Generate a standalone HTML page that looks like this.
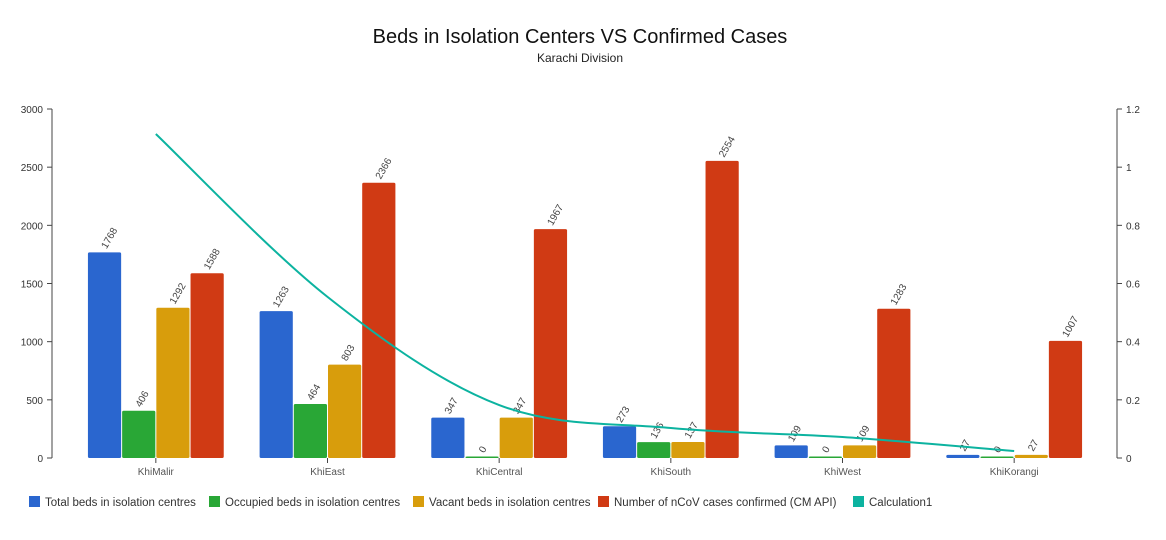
<!DOCTYPE html>
<html><head><meta charset="utf-8"><style>
body{margin:0;background:#fff;font-family:"Liberation Sans",sans-serif}
svg text{font-family:"Liberation Sans",sans-serif}
</style></head><body>
<svg id="c" width="1166" height="535">
<text x="580" y="43" text-anchor="middle" font-size="20" fill="#111">Beds in Isolation Centers VS Confirmed Cases</text>
<text x="580" y="62" text-anchor="middle" font-size="12" fill="#222">Karachi Division</text>
</svg>
<script>
const categories=["KhiMalir","KhiEast","KhiCentral","KhiSouth","KhiWest","KhiKorangi"];
const totalBeds=[1768,1263,347,273,109,27];
const occupiedBeds=[406,464,0,136,0,0];
const vacantBeds=[1292,803,347,137,109,27];
const confirmed=[1588,2366,1967,2554,1283,1007];
const calc1=[1.114,0.554,0.182,0.103,0.072,0.024];
const leftTicks=[0,500,1000,1500,2000,2500,3000];
const rightTicks=[0,0.2,0.4,0.6,0.8,1,1.2];
const seriesNames=["Total beds in isolation centres","Occupied beds in isolation centres","Vacant beds in isolation centres","Number of nCoV cases confirmed (CM API)","Calculation1"];
const colors=["#2a66cf","#29a736","#d89d0c","#d03a14","#0cb3a0"];

const svg=document.getElementById('c');const NS="http://www.w3.org/2000/svg";
function mk(t,a,p){const e=document.createElementNS(NS,t);for(const k in a)e.setAttribute(k,a[k]);(p||svg).appendChild(e);return e;}
const X0=70,X1=1100,Y0=458,Y1=109;
const gw=(X1-X0)/categories.length;
const yL=v=>Y0-(v/3000)*(Y0-Y1);
const yR=v=>Y0-(v/1.2)*(Y0-Y1);
const xC=i=>X0+gw*(i+0.5);
const la=mk('line',{x1:52,x2:52,y1:Y1,y2:Y0,stroke:'#444','stroke-width':1});

leftTicks.forEach(v=>{const y=yL(v);mk('line',{x1:47,x2:52,y1:y,y2:y,stroke:'#444'});
 const t=mk('text',{x:43,y:y+4,'text-anchor':'end','font-size':10,fill:'#333'});t.textContent=v;
 });
const ra=mk('line',{x1:1117,x2:1117,y1:Y1,y2:Y0,stroke:'#444'});

rightTicks.forEach(v=>{const y=yR(v);mk('line',{x1:1117,x2:1122,y1:y,y2:y,stroke:'#444'});
 const t=mk('text',{x:1126,y:y+4,'font-size':10,fill:'#333'});t.textContent=v;
 });
const series=[totalBeds,occupiedBeds,vacantBeds,confirmed];
const bw=34.2;
categories.forEach((c,i)=>{
 const cx=xC(i);
 series.forEach((s,j)=>{
  const x=cx-2*bw+j*bw, y=yL(s[i]), h=Math.max(Y0-y,1.5);
  const r=mk('rect',{x:x+0.5,y:Y0-h,width:bw-1,height:h,fill:colors[j],rx:1.5});
  
  const tx=x+bw/2+2, ty=Y0-h-3;
  const t=mk('text',{x:tx,y:ty,'font-size':10,fill:'#444',transform:`rotate(-60 ${tx} ${ty})`});t.textContent=s[i];
  
 });
 mk('line',{x1:cx,x2:cx,y1:Y0,y2:Y0+5,stroke:'#444'});
 const t=mk('text',{x:cx,y:Y0+17,'text-anchor':'middle','font-size':10,fill:'#555'});t.textContent=c;
 
});
const pts=calc1.map((v,i)=>[xC(i),yR(v)]);
let d=`M${pts[0][0]} ${pts[0][1]}`;
for(let i=0;i<pts.length-1;i++){const p0=pts[Math.max(i-1,0)],p1=pts[i],p2=pts[i+1],p3=pts[Math.min(i+2,pts.length-1)];
 d+=` C${p1[0]+(p2[0]-p0[0])/6} ${p1[1]+(p2[1]-p0[1])/6} ${p2[0]-(p3[0]-p1[0])/6} ${p2[1]-(p3[1]-p1[1])/6} ${p2[0]} ${p2[1]}`;}
const ln=mk('path',{d:d,stroke:colors[4],fill:'none','stroke-width':2});

const lx=[29,209,413,598,853];
seriesNames.forEach((n,j)=>{
 const g=mk('g',{});
 mk('rect',{x:lx[j],y:496,width:11,height:11,fill:colors[j]},g);
 const t=mk('text',{x:lx[j]+16,y:506,'font-size':11.5,fill:'#333'},g);t.textContent=n;
});
</script>
</body></html>
